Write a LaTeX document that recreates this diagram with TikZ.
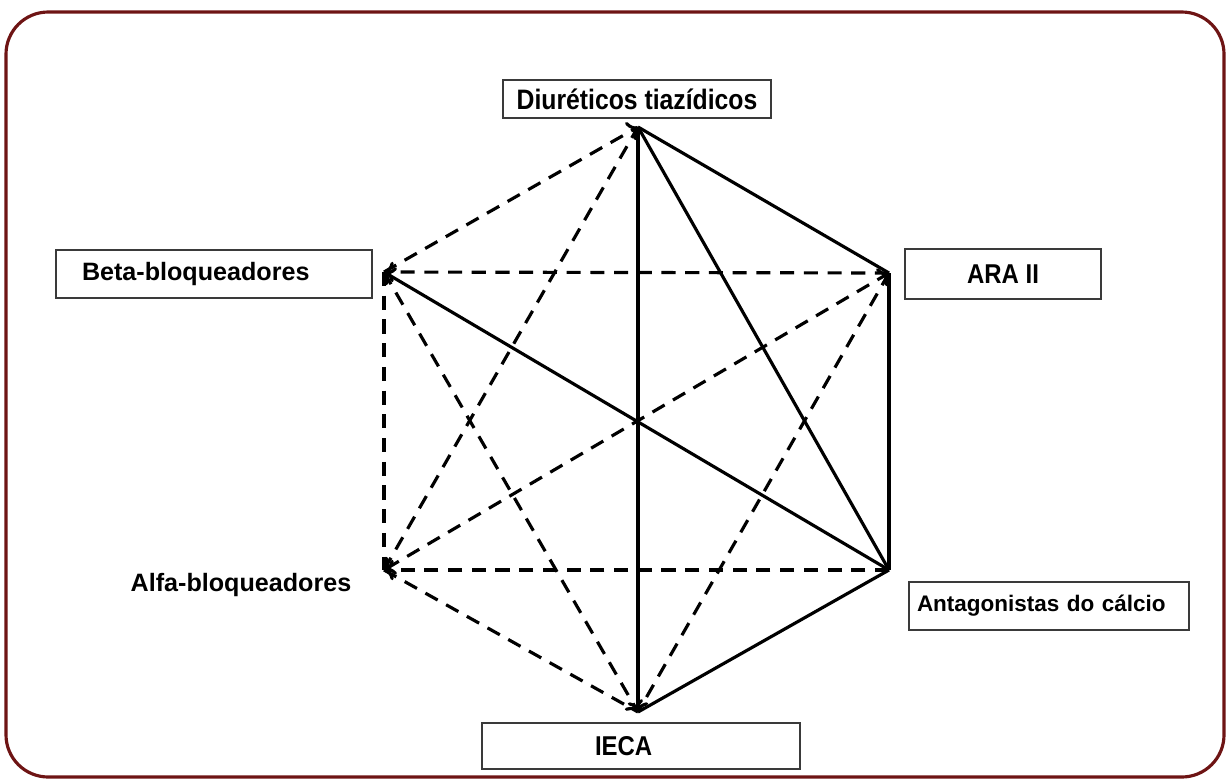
\documentclass[tikz,border=0pt]{standalone}
\usepackage{fontspec}
\setmainfont{Liberation Sans}
\newfontfamily\narrowfont[FakeStretch=0.88]{Liberation Sans}
\usetikzlibrary{arrows.meta}
\usepackage{xcolor}
\definecolor{FrameRed}{HTML}{6E1414}
\definecolor{BoxGray}{HTML}{3A3A3A}

\begin{document}
\begin{tikzpicture}[x=0.02cm, y=-0.02cm,
    drugbox/.style={draw=BoxGray, line width=1.1pt, inner ysep=0pt, font=\bfseries},
    solidlink/.style={line width=1.8pt, black},
    dashlink/.style={line width=1.8pt, black, dash pattern=on 8pt off 5.5pt}]
                \useasboundingbox (0,0) rectangle (1227,782);
                % Outer frame
                \draw[FrameRed, line width=1.8pt, rounded corners=24pt] (6,12) rectangle (1224,777);

                % Hexagon corners
                \coordinate (diu) at (638,127);
                \coordinate (ara) at (889,273);
                \coordinate (ant) at (889,570);
                \coordinate (ieca) at (638,712);
                \coordinate (alfa) at (384,570);
                \coordinate (beta) at (384,272);

                % Drug classes
                \node[drugbox, minimum width=268*0.02cm, minimum height=38*0.02cm, font=\narrowfont\bfseries\fontsize{16}{18}\selectfont] (diuBox) at (637,99) {Diuréticos tiazídicos};
                \node[drugbox, text width=264*0.02cm, inner xsep=26*0.02cm, align=left, minimum height=48*0.02cm, font=\bfseries\fontsize{14.3}{16}\selectfont] (betaBox) at (214,274) {Beta-bloqueadores};
                \node[drugbox, minimum width=196*0.02cm, minimum height=50*0.02cm, font=\narrowfont\bfseries\fontsize{15.5}{17}\selectfont] (araBox) at (1003,274) {ARA II};
                \node[font=\bfseries\fontsize{14.3}{16}\selectfont] (alfaLabel) at (241,585) {Alfa-bloqueadores};
                \node[drugbox, text width=264*0.02cm, inner xsep=8*0.02cm, align=left, minimum height=48*0.02cm, font=\bfseries\fontsize{12.8}{15}\selectfont] (antBox) at (1049,606) {Antagonistas do cálcio};
                \node[drugbox, text width=92*0.02cm, inner xsep=113*0.02cm, align=left, minimum height=46*0.02cm, font=\narrowfont\bfseries\fontsize{15.5}{17}\selectfont] (iecaBox) at (641,746) {IECA};

                % Preferred combinations
                \draw[solidlink] (diu) -- (ara);
                \draw[solidlink] (diu) -- (ant);
                \draw[solidlink, ->] (diu) -- (ieca);
                \draw[solidlink] (ara) -- (ant);
                \draw[solidlink] (ant) -- (ieca);
                \draw[solidlink, ->] (ant) -- (beta);

                % Other combinations
                \draw[dashlink, ->] (beta) -- (diu);
                \draw[dashlink] (alfa) -- (diu);
                \draw[dashlink, ->] (ara) -- (beta);
                \draw[dashlink] (beta) -- (alfa);
                \draw[dashlink, ->] (beta) -- (ieca);
                \draw[dashlink, <->] (alfa) -- (ara);
                \draw[dashlink] (ara) -- (ieca);
                \draw[dashlink, ->] (ant) -- (alfa);
                \draw[dashlink] (alfa) -- (ieca);
            \end{tikzpicture}
\end{document}
